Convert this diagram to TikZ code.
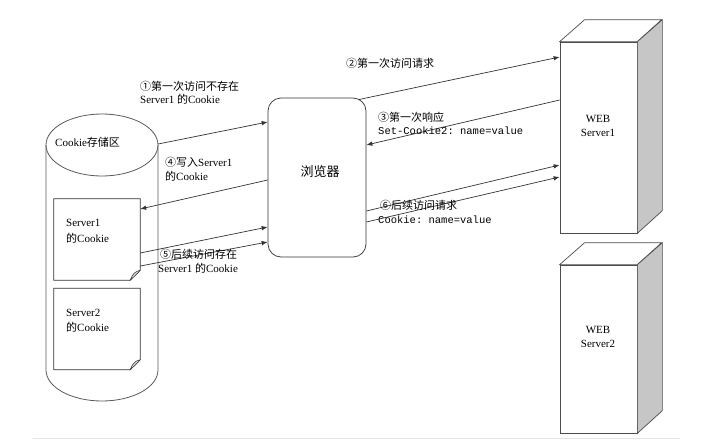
\documentclass[tikz,border=0pt]{standalone}
\usepackage{fontspec}
\setmainfont{Liberation Serif}
\setmonofont{Liberation Mono}
\newfontfamily\cjk{Noto Sans CJK SC}
\newcommand\zhtxt[1]{{\cjk\fontsize{11}{13}\selectfont #1}}
\usetikzlibrary{arrows.meta,calc}
\begin{document}
\begin{tikzpicture}[x=1pt,y=-1pt,
  ln/.style={draw=black!80, line width=0.7pt},
  arr/.style={ln, -{Latex[length=6pt,width=4.5pt]}},
  lbl/.style={anchor=west, inner sep=0pt, font=\fontsize{11}{13}\selectfont},
  cj/.style={anchor=west, inner sep=0pt, font=\cjk\fontsize{11}{13}\selectfont},
  mono/.style={anchor=west, inner sep=0pt, font=\ttfamily\fontsize{10.5}{12}\selectfont},
  ctr/.style={inner sep=0pt, font=\fontsize{11}{13}\selectfont},
  srv/.style={ln, draw=black!70, fill=white, minimum width=77, inner sep=0pt},
  docbox/.style={minimum width=86, minimum height=81, inner sep=0pt},
]
\useasboundingbox (0,0) rectangle (716,442);

% bottom rule
\draw[gray!20, line width=1pt] (33,438) -- (680,438);

% cookie store cylinder
\node[minimum width=112, minimum height=287, inner sep=0pt] (store) at (102,257.5) {};
\draw[ln, line width=0.8pt, draw=black!65] (102,145) ellipse [x radius=56, y radius=31];
\draw[ln, line width=0.8pt, draw=black!65] (46,145) -- (46,370) arc[start angle=180, end angle=0, x radius=56, y radius=31] -- (158,145);
\node[lbl] (storet) at (55,142) {Cookie\zhtxt{存储区}};

% cookie documents
\foreach \n/\cy in {d1/239.5, d2/329} {
  \node[docbox] (\n) at (97,\cy) {};
  \draw[ln, fill=white] (\n.north west) -- (\n.north east) -- ($(\n.south east)+(0,-10)$)
     -- ($(\n.south east)+(-10,0)$) -- (\n.south west) -- cycle;
  \filldraw[ln, line width=0.5pt, fill=gray!35] ($(\n.south east)+(0,-10)$)
     .. controls ($(\n.south east)+(-5,-9)$) and ($(\n.south east)+(-8,-6)$) .. ($(\n.south east)+(-10,0)$)
     .. controls ($(\n.south east)+(-7,-3)$) and ($(\n.south east)+(-3,-6)$) .. ($(\n.south east)+(0,-10)$);
}
\node[lbl] (d1a) at (66,223) {Server1};
\node[lbl] (d1b) at (66,238) {\zhtxt{的}Cookie};
\node[lbl] (d2a) at (66,313) {Server2};
\node[lbl] (d2b) at (66,327) {\zhtxt{的}Cookie};

% browser
\node[ln, rounded corners=13pt, minimum width=98, minimum height=159, inner sep=0pt] (br) at (317,177.5) {};
\node[inner sep=0pt, font=\cjk\fontsize{13}{15}\selectfont] (brt) at (320,172) {浏览器};

% servers
\foreach \n/\cy/\h in {s1/137.5/191, s2/349/168} {
  \node[srv, minimum height=\h] (\n) at (598.5,\cy) {};
  \filldraw[ln, draw=black!70, fill=white] (\n.north west) -- ++(25,-22) -- ++(77,0) -- (\n.north east) -- cycle;
  \filldraw[ln, draw=black!70, fill=gray!45] (\n.north east) -- ++(25,-22) -- ++(0,\h) -- (\n.south east) -- cycle;
}
\node[ctr] (s1a) at (598,119) {WEB};
\node[ctr] (s1b) at (598,133) {Server1};
\node[ctr] (s2a) at (598,330) {WEB};
\node[ctr] (s2b) at (598,344) {Server2};

% arrows
\draw[arr] (store.east |- 0,144) -- (br.west |- 0,122);
\draw[arr] ($(br.north east)+(-8,2)$) -- (s1.west |- 0,57);
\draw[arr] (s1.west |- 0,100) -- (br.east |- 0,145);
\draw[arr] (br.west |- 0,180) -- (d1.east |- 0,209);
\draw[arr] (d1.east |- 0,253) -- (br.west |- 0,227);
\draw[arr] (d1.east |- 0,266) -- (br.west |- 0,242);
\draw[arr] (br.east |- 0,211) -- (s1.west |- 0,165);
\draw[arr] (br.east |- 0,222) -- (s1.west |- 0,177);

% labels
\node[cj] (l1a) at (140,86) {①第一次访问不存在};
\node[lbl] (l1b) at (140,99) {Server1 \zhtxt{的}Cookie};
\node[cj] (l2) at (346,63) {②第一次访问请求};
\node[cj] (l3a) at (378,117) {③第一次响应};
\node[mono] (l3b) at (378,131) {Set-Cookie2: name=value};
\node[lbl] (l4a) at (165,162) {\zhtxt{④写入}Server1};
\node[lbl] (l4b) at (165,176) {\zhtxt{的}Cookie};
\node[cj] (l5a) at (160,254) {⑤后续访问存在};
\node[lbl] (l5b) at (158,268) {Server1 \zhtxt{的}Cookie};
\node[cj] (l6a) at (380,205) {⑥后续访问请求};
\node[mono] (l6b) at (378,220) {Cookie: name=value};
\end{tikzpicture}
\end{document}
